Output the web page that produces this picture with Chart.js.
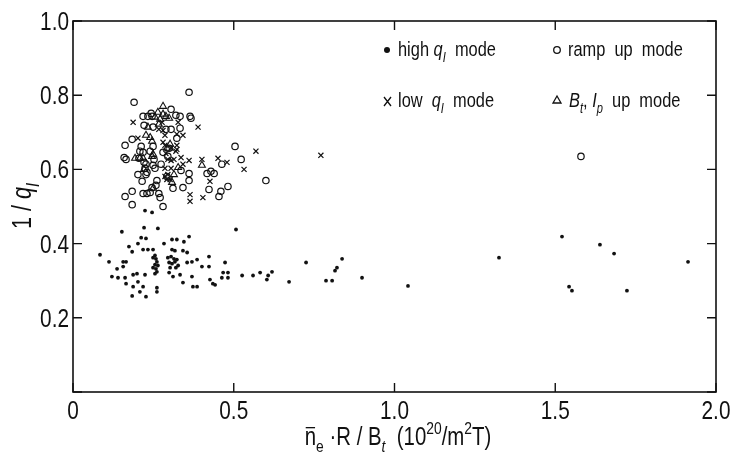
<!DOCTYPE html>
<html><head><meta charset="utf-8">
<script src="https://cdn.jsdelivr.net/npm/chart.js@4/dist/chart.umd.min.js"></script>
<style>html,body{margin:0;padding:0;background:#fff}#wrap{width:747px;height:460px;position:relative}</style>
</head><body><div id="wrap"><canvas id="c"></canvas></div>
<script>
const xTicks=[0,0.5,1.0,1.5,2.0];
const yTicks=[0,0.2,0.4,0.6,0.8,1.0];
const xTickLabels=['0','0.5','1.0','1.5','2.0'];
const yTickLabels=['','0.2','0.4','0.6','0.8','1.0'];

const highX=[0.084,0.152,0.221,0.264,0.507,0.224,0.246,0.212,0.227,0.308,0.323,0.345,0.361,0.283,0.174,0.202,0.184,0.218,0.233,0.249,0.308,0.317,0.342,0.355,0.112,0.156,0.165,
0.255,0.258,0.261,0.255,0.264,0.258,0.261,0.255,0.249,0.249,
0.295,0.305,0.314,0.323,0.299,0.308,0.317,0.327,0.302,0.320,
0.386,0.355,0.370,0.423,0.423,0.401,0.473,0.137,0.156,
0.121,0.140,0.162,0.187,0.199,0.224,0.299,0.311,0.333,0.370,
0.426,0.435,0.442,0.463,0.467,0.482,0.482,0.526,0.560,0.582,0.603,0.619,0.607,
0.342,0.373,0.386,0.165,0.187,0.202,0.218,0.208,0.184,0.227,0.261,0.261,
0.672,0.725,0.787,0.806,0.815,0.821,0.837,0.899,1.042,1.325,1.521,1.543,1.552,1.639,1.683,1.723,1.913];
const highY=[0.370,0.432,0.443,0.441,0.438,0.489,0.484,0.416,0.414,0.411,0.411,0.405,0.419,0.400,0.392,0.400,0.378,0.384,0.384,0.384,0.384,0.381,0.381,0.376,0.351,0.351,0.351,
0.368,0.359,0.351,0.343,0.341,0.332,0.324,0.319,0.362,0.335,
0.362,0.365,0.359,0.357,0.349,0.346,0.351,0.341,0.335,0.335,
0.357,0.349,0.351,0.365,0.338,0.338,0.349,0.332,0.338,
0.311,0.308,0.308,0.316,0.319,0.316,0.322,0.311,0.316,0.311,
0.303,0.292,0.289,0.308,0.322,0.322,0.308,0.314,0.314,0.322,0.303,0.324,0.314,
0.295,0.284,0.284,0.292,0.284,0.297,0.284,0.270,0.259,0.257,0.281,0.270,
0.297,0.349,0.300,0.300,0.327,0.335,0.359,0.308,0.286,0.362,0.419,0.284,0.273,0.397,0.373,0.273,0.351];

const rampX=[0.361,0.190,0.305,0.243,0.233,0.246,0.218,0.320,0.333,0.364,0.367,0.221,0.249,0.305,0.289,0.333,0.184,0.323,0.162,0.212,0.249,0.299,0.504,
0.208,0.218,0.240,0.280,0.159,0.165,0.205,0.252,0.295,0.221,0.227,0.249,0.274,0.523,0.463,0.336,0.224,0.230,0.255,0.202,0.227,0.292,0.361,0.417,0.429,0.439,
0.215,0.261,0.361,0.246,0.258,0.311,0.342,0.423,0.482,0.184,0.218,0.230,0.240,0.267,0.271,0.460,0.454,0.162,0.184,0.280,0.600,1.580];
const rampY=[0.808,0.781,0.762,0.751,0.743,0.743,0.743,0.746,0.743,0.743,0.738,0.719,0.714,0.708,0.708,0.711,0.681,0.684,0.665,0.662,0.662,0.657,0.662,
0.649,0.646,0.649,0.646,0.632,0.627,0.630,0.627,0.635,0.619,0.614,0.611,0.614,0.627,0.614,0.597,0.603,0.592,0.603,0.586,0.586,0.581,0.589,0.589,0.595,0.589,
0.568,0.570,0.570,0.551,0.557,0.549,0.551,0.546,0.554,0.541,0.535,0.535,0.538,0.535,0.524,0.541,0.527,0.527,0.505,0.500,0.570,0.635];

const lowX=[0.187,0.389,0.327,0.277,0.267,0.280,0.202,0.286,0.323,0.342,0.280,0.286,0.323,0.305,0.323,0.289,0.320,0.295,0.305,0.314,0.336,0.361,0.401,0.451,0.479,0.569,0.532,0.342,0.286,0.305,0.295,0.286,0.292,0.302,0.426,0.364,0.364,0.404,0.771];
const lowY=[0.727,0.714,0.727,0.727,0.708,0.705,0.684,0.692,0.695,0.692,0.673,0.665,0.665,0.657,0.654,0.643,0.649,0.627,0.624,0.627,0.632,0.624,0.627,0.630,0.619,0.649,0.600,0.614,0.603,0.603,0.586,0.581,0.573,0.573,0.568,0.532,0.514,0.524,0.638];

const upX=[0.280,0.264,0.280,0.289,0.299,0.255,0.233,0.267,0.227,0.240,0.246,0.302,0.292,0.193,0.208,0.218,0.246,0.249,0.401,0.327,0.221,0.314,0.308,0.249,0.271];
const upY=[0.770,0.754,0.749,0.743,0.738,0.741,0.714,0.722,0.692,0.686,0.676,0.668,0.657,0.630,0.630,0.630,0.635,0.641,0.611,0.605,0.600,0.586,0.565,0.549,0.735];

const FONT='"Liberation Sans",Arial,sans-serif';
const INK='#111';
const SX=0.8; // horizontal condensing of the lettering
function pts(xs,ys){return xs.map((x,i)=>({x:x,y:ys[i]}));}

function richWidth(ctx,segs,size){
  let w=0;
  for(const s of segs){const fs=(s.sub||s.sup)?size*0.68:size;ctx.font=(s.it?'italic ':'')+fs+'px '+FONT;w+=ctx.measureText(s.t).width*SX;}
  return w;
}
function drawRich(ctx,segs,x,y,size,align){
  const w=richWidth(ctx,segs,size);
  let cx=align==='center'?x-w/2:(align==='right'?x-w:x);
  ctx.textBaseline='alphabetic';ctx.textAlign='left';ctx.fillStyle=INK;ctx.strokeStyle=INK;
  for(const s of segs){
    const fs=(s.sub||s.sup)?size*0.68:size;
    ctx.font=(s.it?'italic ':'')+fs+'px '+FONT;
    const dy=s.sub?size*0.28:(s.sup?-size*0.42:0);
    const tw=ctx.measureText(s.t).width*SX;
    ctx.save();ctx.translate(cx,y+dy);ctx.scale(SX,1);ctx.fillText(s.t,0,0);ctx.restore();
    if(s.bar){ctx.lineWidth=1.3;ctx.beginPath();ctx.moveTo(cx+1,y-size*0.68);ctx.lineTo(cx+tw-1,y-size*0.68);ctx.stroke();}
    cx+=tw;
  }
}

const decor={
  id:'decor',
  afterDraw(chart){
    const ctx=chart.ctx,a=chart.chartArea,xs=chart.scales.x,ys=chart.scales.y;
    ctx.save();
    ctx.strokeStyle=INK;ctx.lineWidth=1.6;
    ctx.strokeRect(a.left,a.top,a.right-a.left,a.bottom-a.top);
    ctx.lineWidth=1.4;
    const L=9;
    for(const v of xTicks){const p=xs.getPixelForValue(v);ctx.beginPath();ctx.moveTo(p,a.bottom);ctx.lineTo(p,a.bottom-L);ctx.moveTo(p,a.top);ctx.lineTo(p,a.top+L);ctx.stroke();}
    for(const v of yTicks){const p=ys.getPixelForValue(v);ctx.beginPath();ctx.moveTo(a.left,p);ctx.lineTo(a.left+L,p);ctx.moveTo(a.right,p);ctx.lineTo(a.right-L,p);ctx.stroke();}
    // tick labels
    xTicks.forEach((v,i)=>drawRich(ctx,[{t:xTickLabels[i]}],xs.getPixelForValue(v),a.bottom+27,26,'center'));
    yTicks.forEach((v,i)=>{if(yTickLabels[i])drawRich(ctx,[{t:yTickLabels[i]}],a.left-4,ys.getPixelForValue(v)+9,26,'right');});
    // legend
    const fs=20.5, r1=56, r2=107;
    ctx.fillStyle=INK;ctx.lineWidth=1.3;
    ctx.beginPath();ctx.arc(387,r1-6,3,0,Math.PI*2);ctx.fill();
    drawRich(ctx,[{t:'high '},{t:'q',it:1},{t:'I',it:1,sub:1},{t:'  mode'}],398,r1,fs,'left');
    ctx.beginPath();ctx.arc(557,r1-6,3.3,0,Math.PI*2);ctx.stroke();
    drawRich(ctx,[{t:'ramp  up  mode'}],568,r1,fs,'left');
    ctx.beginPath();ctx.moveTo(384,r2-10);ctx.lineTo(391,r2-1);ctx.moveTo(391,r2-10);ctx.lineTo(384,r2-1);ctx.stroke();
    drawRich(ctx,[{t:'low  '},{t:'q',it:1},{t:'I',it:1,sub:1},{t:'  mode'}],398,r2,fs,'left');
    ctx.beginPath();ctx.moveTo(557,r2-11);ctx.lineTo(561,r2-4);ctx.lineTo(553,r2-4);ctx.closePath();ctx.stroke();
    drawRich(ctx,[{t:'B',it:1},{t:'t',it:1,sub:1},{t:', '},{t:'I',it:1},{t:'p',it:1,sub:1},{t:'  up  mode'}],569,r2,fs,'left');
    // axis titles
    drawRich(ctx,[{t:'n',bar:1},{t:'e',sub:1},{t:' \u00b7R / B'},{t:'t',it:1,sub:1},{t:'  (10'},{t:'20',sup:1},{t:'/m'},{t:'2',sup:1},{t:'T)'}],398,445,25.5,'center');
    ctx.save();ctx.translate(31,206);ctx.rotate(-Math.PI/2);
    drawRich(ctx,[{t:'1 / '},{t:'q',it:1},{t:'I',it:1,sub:1}],0,0,27,'center');
    ctx.restore();
    ctx.restore();
  }
};

const scatterBase={showLine:false};
new Chart(document.getElementById('c'),{
  type:'scatter',
  data:{datasets:[
    Object.assign({label:'high qI mode',data:pts(highX,highY),pointStyle:'circle',pointRadius:1.9,pointBorderWidth:0,backgroundColor:INK,borderColor:INK},scatterBase),
    Object.assign({label:'ramp up mode',data:pts(rampX,rampY),pointStyle:'circle',pointRadius:3.2,pointBorderWidth:1.2,backgroundColor:'rgba(0,0,0,0)',borderColor:INK},scatterBase),
    Object.assign({label:'low qI mode',data:pts(lowX,lowY),pointStyle:'crossRot',pointRadius:3.6,pointBorderWidth:1.2,backgroundColor:INK,borderColor:INK},scatterBase),
    Object.assign({label:'Bt, Ip up mode',data:pts(upX,upY),pointStyle:'triangle',pointRadius:4,pointBorderWidth:1.1,backgroundColor:'rgba(0,0,0,0)',borderColor:INK},scatterBase)
  ]},
  options:{
    responsive:true,maintainAspectRatio:false,animation:false,devicePixelRatio:1,
    layout:{padding:{top:21,right:31,left:0,bottom:0}},
    plugins:{legend:{display:false},tooltip:{enabled:false}},
    scales:{
      x:{type:'linear',min:0,max:2.0,
        afterBuildTicks(s){s.ticks=xTicks.map(v=>({value:v}));},
        afterFit(s){s.height=68;},
        grid:{display:false,drawTicks:false},border:{display:false},
        ticks:{display:false}},
      y:{type:'linear',min:0,max:1.0,
        afterBuildTicks(s){s.ticks=yTicks.map(v=>({value:v}));},
        afterFit(s){s.width=73;},
        grid:{display:false,drawTicks:false},border:{display:false},
        ticks:{display:false}}
    }
  },
  plugins:[decor]
});
</script></body></html>
